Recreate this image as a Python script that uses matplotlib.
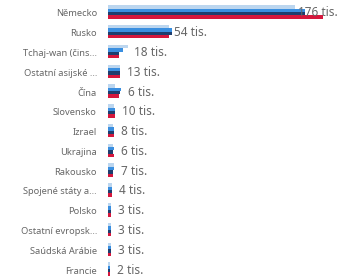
import matplotlib
matplotlib.use("Agg")
import matplotlib.pyplot as plt
import numpy as np

categories = ["Německo", "Rusko", "Tchaj-wan (čins...", "Ostatní asijské ...", "Čína",
              "Slovensko", "Izrael", "Ukrajina", "Rakousko", "Spojené státy a...",
              "Polsko", "Ostatní evropsk...", "Saúdská Arábie", "Francie"]
series_light = [153, 50, 16, 10, 6, 5, 4, 4, 5, 3, 2.5, 2.5, 2.5, 2]
series_blue = [161, 52, 12, 10, 11, 6, 5, 5, 5, 3, 2.5, 2.5, 2.5, 2]
series_navy = [161, 52, 9, 10, 10, 6, 5, 4, 4, 3, 2.5, 2.5, 2.5, 2]
series_red = [176, 50, 9, 10, 9, 6, 5, 5, 4, 3, 2.5, 2.5, 2.5, 2]
value_labels = ["176 tis.", "54 tis.", "18 tis.", "13 tis.", "6 tis.", "10 tis.", "8 tis.",
                "6 tis.", "7 tis.", "4 tis.", "3 tis.", "3 tis.", "3 tis.", "2 tis."]

colors = ["#bcd6ef", "#3a8fe0", "#1e3e6e", "#d5173c"]
all_series = [series_light, series_blue, series_navy, series_red]

fig = plt.figure(figsize=(3.39, 2.80), dpi=100)
ax = fig.add_axes([108 / 339, 0.0, 231 / 339, 0.989])

y = np.arange(len(categories))
n = len(all_series)
h = 0.17
for i, (s, c) in enumerate(zip(all_series, colors)):
    ax.barh(y + (i - (n - 1) / 2) * h - 0.05, s, height=h, color=c, linewidth=0)

ax.set_xlim(0, 189)
ax.set_ylim(len(categories) - 0.5, -0.5)
ax.set_yticks(y)
ax.set_yticklabels(categories, fontsize=6.7, color="#666666", family="Noto Sans")
ax.tick_params(axis="y", length=0, pad=8)
ax.set_xticks([])
for sp in ax.spines.values():
    sp.set_visible(False)

for i, lab in enumerate(value_labels):
    m = max(s[i] for s in all_series)
    if i == 0:
        ax.annotate(lab, xy=(1.0, i), xycoords=("axes fraction", "data"),
                    ha="right", va="center", fontsize=8.5, color="#666666",
                    family="Noto Sans", xytext=(-1, 0), textcoords="offset points")
    else:
        pad = 2 if i == 1 else 5
        ax.annotate(lab, xy=(m, i), xytext=(pad, 0), textcoords="offset points",
                    ha="left", va="center", fontsize=8.5, color="#666666",
                    family="Noto Sans")

fig.savefig("out.png", dpi=100)
